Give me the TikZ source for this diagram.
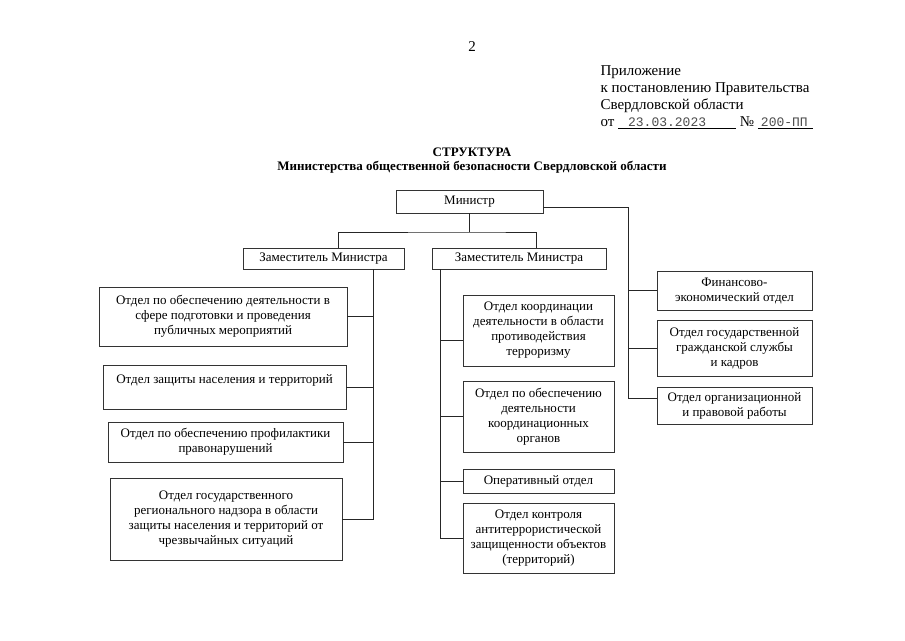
\documentclass[tikz,border=0pt]{standalone}
\usepackage{fontspec}
\setmainfont{Liberation Serif}
\setmonofont{Liberation Mono}
\usepackage{tikz}
\usetikzlibrary{calc}

\tikzset{
  otdel/.style={draw=black!80, line width=0.7pt, align=center, inner sep=2pt,
    font=\fontsize{13}{15}\selectfont},
  svyaz/.style={draw=black!85, line width=0.7pt},
}

\begin{document}
\begin{tikzpicture}[x=1pt, y=-1pt]
\useasboundingbox (0,0) rectangle (905,640);

% Шапка
\node (nomer) at (472,47) {\fontsize{15}{17}\selectfont 2};
\node[anchor=west, align=left, font=\fontsize{15}{17}\selectfont] (prilozh) at (597,97)
  {Приложение\\к постановлению Правительства\\Свердловской области\\
   от \underline{\makebox[118pt][l]{\hspace{10pt}\fontsize{13}{15}\ttfamily\color{black!70}23.03.2023}}
   № \underline{\makebox[55pt][l]{\hspace{3pt}\fontsize{13}{15}\ttfamily\color{black!70}200-ПП}}};

% Заголовок
\node[font=\bfseries\fontsize{13}{15}\selectfont] (zag) at (472,152) {СТРУКТУРА};
\node[font=\bfseries\fontsize{13}{15}\selectfont] (podzag) at (472,167.5)
  {Министерства общественной безопасности Свердловской области};

% Руководство
\node[otdel, minimum width=147pt, minimum height=23pt] (ministr) at (469.5,201.5) {Министр};
\node[otdel, minimum width=161pt, minimum height=21pt] (zam1) at (323.5,258.5) {Заместитель Министра};
\node[otdel, minimum width=174pt, minimum height=21pt] (zam2) at (519,258.5) {Заместитель Министра};

% Левая колонка
\node[otdel, minimum width=248pt, minimum height=59pt] (l1) at (223,316.5)
  {Отдел по обеспечению деятельности в\\сфере подготовки и проведения\\публичных мероприятий};
\node[otdel, minimum width=243pt, minimum height=44pt] (l2) at (224.5,387)
  {Отдел защиты населения и территорий\\ \mbox{}};
\node[otdel, minimum width=235pt, minimum height=40pt] (l3) at (225.5,442)
  {Отдел по обеспечению профилактики\\правонарушений};
\node[otdel, minimum width=232pt, minimum height=82pt] (l4) at (226,519)
  {Отдел государственного\\регионального надзора в области\\защиты населения и территорий от\\чрезвычайных ситуаций};

% Средняя колонка
\node[otdel, minimum width=151pt, minimum height=71pt] (m1) at (538.5,330.5)
  {Отдел координации\\деятельности в области\\противодействия\\терроризму};
\node[otdel, minimum width=151pt, minimum height=71pt] (m2) at (538.5,416.5)
  {Отдел по обеспечению\\деятельности\\координационных\\органов};
\node[otdel, minimum width=151pt, minimum height=24pt] (oper) at (538.5,481)
  {Оперативный отдел};
\node[otdel, minimum width=151pt, minimum height=70pt] (m4) at (538.5,538)
  {Отдел контроля\\антитеррористической\\защищенности объектов\\(территорий)};

% Правая колонка
\node[otdel, minimum width=155pt, minimum height=39pt] (r1) at (734.5,290.5)
  {Финансово-\\экономический отдел};
\node[otdel, minimum width=155pt, minimum height=56pt] (r2) at (734.5,348)
  {Отдел государственной\\гражданской службы\\и кадров};
\node[otdel, minimum width=155pt, minimum height=37pt] (r3) at (734.5,405.5)
  {Отдел организационной\\и правовой работы};

% Связи
\coordinate (razv) at (476,232);
\coordinate (lspine) at (373,0);
\coordinate (mspine) at (440,0);
\coordinate (rspine) at (628,0);

\draw[svyaz] (ministr.south) -- (ministr.south |- razv);
\draw[svyaz] ([xshift=14.5pt]zam1.north) |- (razv) -| ([xshift=17pt]zam2.north);

\draw[svyaz] (zam1.south -| lspine) -- (l4.east -| lspine) -- (l4.east);
\foreach \n in {l1,l2,l3}
  \draw[svyaz] (\n.east) -- (\n.east -| lspine);

\draw[svyaz] (zam2.south -| mspine) -- (m4.west -| mspine) -- (m4.west);
\draw[svyaz] ([yshift=-9.5pt]m1.west) -- ([yshift=-9.5pt]m1.west -| mspine);
\foreach \n in {m2,oper}
  \draw[svyaz] (\n.west) -- (\n.west -| mspine);

\draw[svyaz] ([yshift=-6pt]ministr.east) -| ([yshift=7.5pt]r3.west -| rspine) -- ([yshift=7.5pt]r3.west);
\foreach \n in {r1,r2}
  \draw[svyaz] (\n.west) -- (\n.west -| rspine);

\end{tikzpicture}
\end{document}
